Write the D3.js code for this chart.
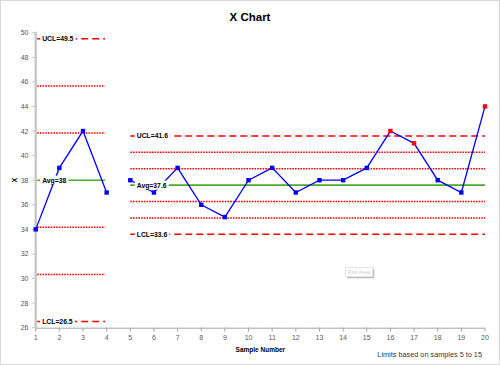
<!DOCTYPE html>
<html><head><meta charset="utf-8">
<script src="https://cdn.jsdelivr.net/npm/d3@7"></script>
<style>
html,body{margin:0;padding:0;background:#fff;}
svg{display:block;font-family:"Liberation Sans",Arial,sans-serif;}
</style></head>
<body>
<svg id="c" width="500" height="365"></svg>
<script>
// ---- data ----
const samples = [1,2,3,4,5,6,7,8,9,10,11,12,13,14,15,16,17,18,19,20];
const values  = [34,39,42,37,38,37,39,36,35,38,39,37,38,38,39,42,41,38,37,44];
const flagged = [16,17,20]; // out-of-control points shown in red
const yTicks = [26,28,30,32,34,36,38,40,42,44,46,48,50];
// control limit segments: [first sample, last sample]
const segRanges = [[1,4],[5,20]];
const segAvg = [38, 37.6];
const segUCL = [49.5, 41.6];
const segLCL = [26.5, 33.6];
const avgLabels = ["Avg=38","Avg=37.6"];
const uclLabels = ["UCL=49.5","UCL=41.6"];
const lclLabels = ["LCL=26.5","LCL=33.6"];

const svg = d3.select("#c");
const x = d3.scaleLinear().domain([1,20]).range([35.7,485]);
const y = d3.scaleLinear().domain([26,50]).range([327.7,32.7]);

// border
svg.append("rect").attr("x",0.5).attr("y",0.5).attr("width",499).attr("height",364)
  .attr("fill","none").attr("stroke","#d9d9d9");

// title
svg.append("text").attr("x",250).attr("y",20.5).attr("text-anchor","middle")
  .attr("font-size",11.5).attr("font-weight","bold").attr("fill","#000").text("X Chart");

// y axis
const ya = svg.append("g");
ya.append("line").attr("x1",x(1)).attr("x2",x(1)).attr("y1",y(50)-1).attr("y2",y(26))
  .attr("stroke","#c8c8c8").attr("stroke-width",2.5);
yTicks.forEach(t=>{
  ya.append("line").attr("x1",x(1)-4).attr("x2",x(1)).attr("y1",y(t)).attr("y2",y(t))
    .attr("stroke","#c8c8c8").attr("stroke-width",1);
  ya.append("text").attr("x",28.5).attr("y",y(t)+2.5).attr("text-anchor","end")
    .attr("font-size",7).attr("fill","#595959").text(t);
});
svg.append("text").attr("transform",`translate(16.5,${y(38)}) rotate(-90)`)
  .attr("text-anchor","middle").attr("font-size",7).attr("font-weight","bold").attr("fill","#000").text("X");

// x axis
const xa = svg.append("g");
xa.append("line").attr("x1",x(1)).attr("x2",x(20)).attr("y1",y(26)+0.5).attr("y2",y(26)+0.5)
  .attr("stroke","#a6a6a6").attr("stroke-width",1);
samples.forEach(s=>{
  xa.append("line").attr("x1",x(s)).attr("x2",x(s)).attr("y1",y(26)).attr("y2",y(26)+4)
    .attr("stroke","#a6a6a6").attr("stroke-width",1);
  xa.append("text").attr("x",x(s)).attr("y",339.5).attr("text-anchor","middle")
    .attr("font-size",7).attr("fill","#595959").text(s);
});
svg.append("text").attr("x",(x(1)+x(20))/2).attr("y",351.5).attr("text-anchor","middle")
  .attr("font-size",6.5).attr("font-weight","bold").attr("fill","#000").text("Sample Number");
svg.append("text").attr("x",482).attr("y",357).attr("text-anchor","end")
  .attr("font-size",7.3).attr("fill","#000").attr("fill-opacity",0.85).text("Limits based on samples 5 to 15");

// faint "Plot Area" artifact
const pa = svg.append("g");
pa.append("line").attr("x1",373.5).attr("x2",373.5).attr("y1",269).attr("y2",278).attr("stroke","#bdbdbd").attr("stroke-width",1.5);
pa.append("line").attr("x1",347).attr("x2",374).attr("y1",277.5).attr("y2",277.5).attr("stroke","#bdbdbd").attr("stroke-width",1.5);
pa.append("rect").attr("x",345.5).attr("y",267.5).attr("width",27).attr("height",9)
  .attr("fill","#fff").attr("stroke","#e6e6e6").attr("stroke-width",1);
pa.append("text").attr("x",359).attr("y",274).attr("text-anchor","middle").attr("font-size",5.5)
  .attr("fill","#d0d0d0").text("Plot Area");

// control lines
const lineG = svg.append("g");
segRanges.forEach((r,i)=>{
  const x0 = x(r[0]) + (i===0?1.5:0), x1 = x(r[1]) - (i===0?1.5:0);
  const sig = (segUCL[i]-segAvg[i])/3;
  const hl = (v,dash,color,w)=> lineG.append("line").attr("x1",x0).attr("x2",x1)
     .attr("y1",y(v)).attr("y2",y(v)).attr("stroke",color).attr("stroke-width",w)
     .attr("stroke-dasharray",dash);
  hl(segUCL[i],"7,4","#ff0000",1.5);
  hl(segLCL[i],"7,4","#ff0000",1.5);
  [1,2].forEach(k=>{
    hl(segAvg[i]+k*sig,"1.6,1.1","#ff0000",1.5);
    hl(segAvg[i]-k*sig,"1.6,1.1","#ff0000",1.5);
  });
  hl(segAvg[i],null,"#4ea72e",1.6);
});

// data lines
const line = d3.line().x(d=>x(d.s)).y(d=>y(d.v));
const pts = samples.map((s,i)=>({s, v:values[i]}));
segRanges.forEach(r=>{
  const seg = pts.filter(p=>p.s>=r[0] && p.s<=r[1]);
  svg.append("path").datum(seg).attr("d",line).attr("fill","none")
    .attr("stroke","#0000ff").attr("stroke-width",1.3);
});
svg.append("g").selectAll("rect").data(pts).join("rect")
  .attr("x",d=>x(d.s)-2.2).attr("y",d=>y(d.v)-2.2).attr("width",4.4).attr("height",4.4)
  .attr("fill",d=> flagged.includes(d.s)?"#ff0000":"#0000ff");

// limit labels (white background, drawn on top)
const labG = svg.append("g");
segRanges.forEach((r,i)=>{
  const lx = x(r[0]) + 6.5;
  [[segUCL[i],uclLabels[i]],[segAvg[i],avgLabels[i]],[segLCL[i],lclLabels[i]]].forEach(([v,t])=>{
    const g = labG.append("g");
    const txt = g.append("text").attr("x",lx).attr("y",y(v)+2.4)
      .attr("font-size",6.8).attr("font-weight","bold").attr("fill","#000").text(t);
    const bb = txt.node().getBBox();
    g.insert("rect","text").attr("x",bb.x-2).attr("y",y(v)-4.5).attr("width",bb.width+4).attr("height",9)
      .attr("fill","#fff");
  });
});
</script>
</body></html>
